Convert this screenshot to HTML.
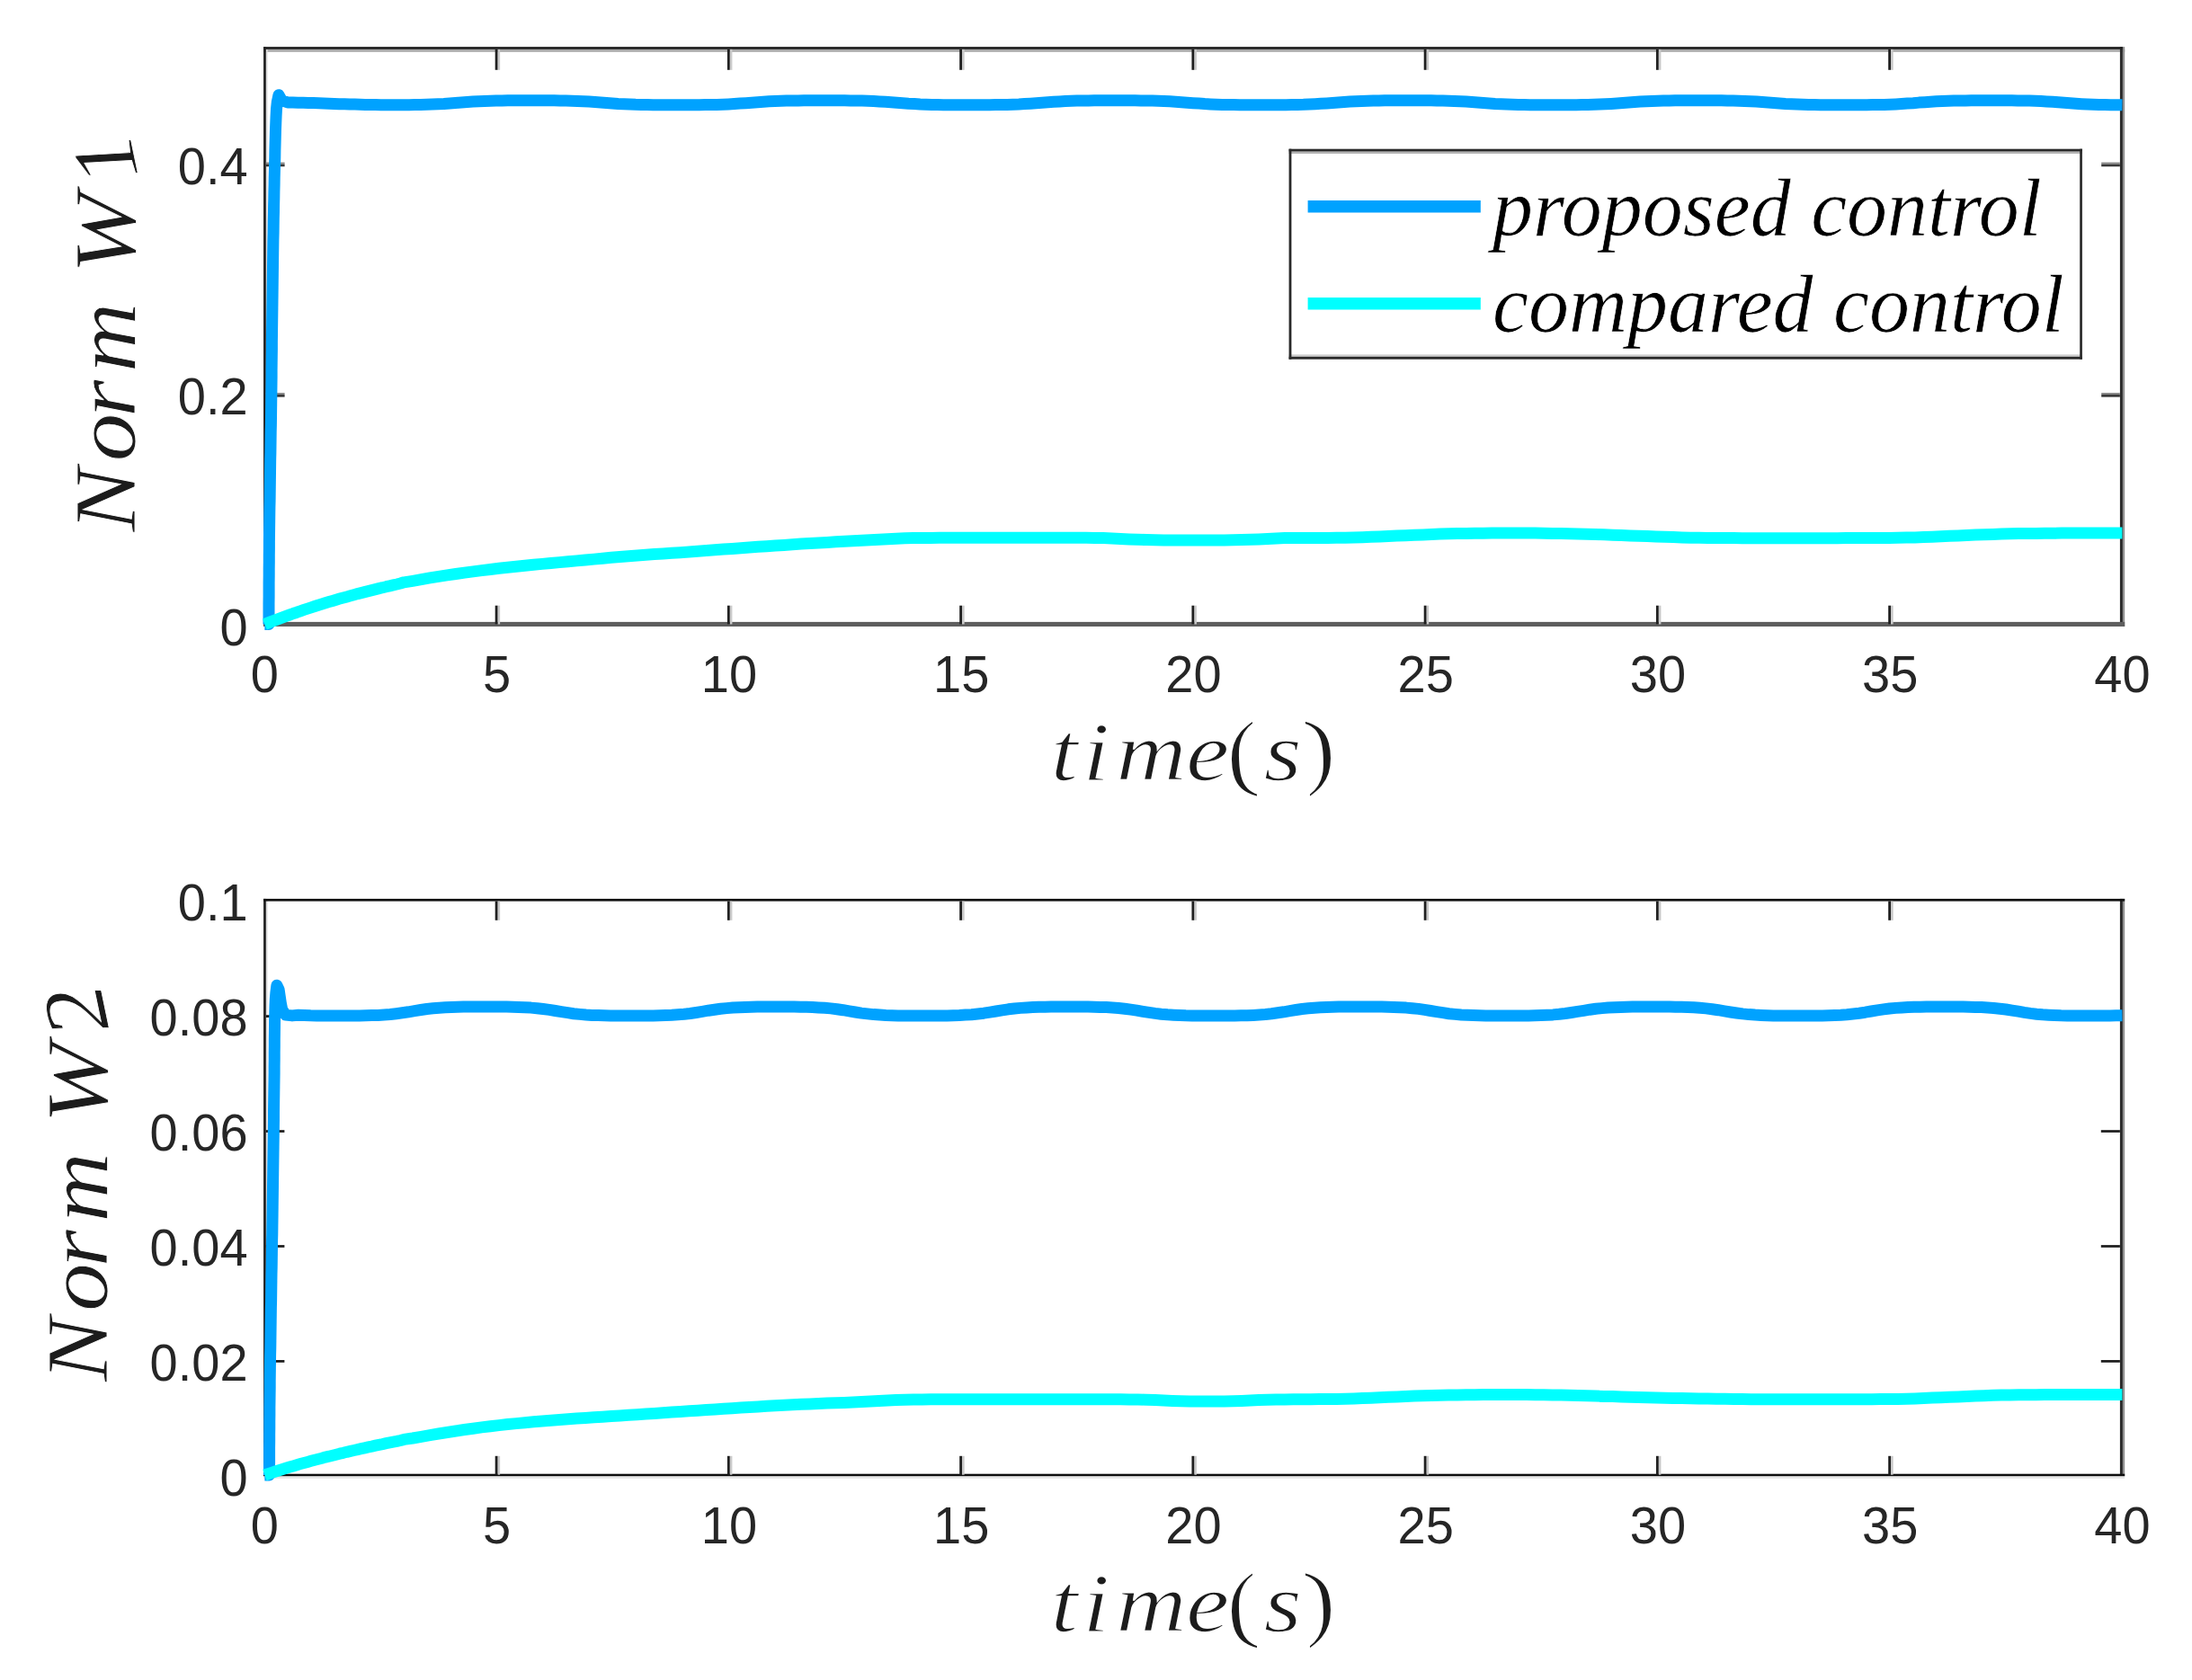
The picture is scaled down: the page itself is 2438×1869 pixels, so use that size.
<!DOCTYPE html>
<html lang="en"><head><meta charset="utf-8"><title>Norm W1 / Norm W2</title>
<style>
html,body{margin:0;padding:0;background:#fff;}
body{width:2438px;height:1869px;overflow:hidden;}
svg{display:block;}
.tk{font-family:"Liberation Sans",sans-serif;font-size:56px;fill:#262626;}
.lab{font-family:"Liberation Serif",serif;font-style:italic;fill:#1c1c1c;stroke:#fff;stroke-width:1.6px;}
.up{font-style:normal;}
.leg{font-family:"Liberation Serif",serif;font-style:italic;font-size:90px;fill:#000;stroke:#fff;stroke-width:0.7px;}
</style></head><body>
<svg width="2438" height="1869" viewBox="0 0 2438 1869">
<defs><filter id="soft" x="0" y="0" width="100%" height="100%" filterUnits="objectBoundingBox" color-interpolation-filters="sRGB"><feGaussianBlur stdDeviation="0.55"/></filter></defs>
<g filter="url(#soft)">
<rect x="0" y="0" width="2438" height="1869" fill="#fff"/>
<g id="axes-top" shape-rendering="auto">
<rect x="293.10" y="54.90" width="2070.10" height="2.90" fill="#ababab"/>
<rect x="295.80" y="52.10" width="1.80" height="644.90" fill="#dcdcdc"/>
<rect x="293.10" y="52.10" width="2.70" height="644.90" fill="#1e1e1e"/>
<rect x="2360.90" y="52.10" width="2.30" height="644.90" fill="#929292"/>
<rect x="2357.90" y="52.10" width="3.00" height="644.90" fill="#2a2a2a"/>
<rect x="293.10" y="52.10" width="2067.80" height="2.80" fill="#222222"/>
<rect x="293.10" y="691.90" width="2070.10" height="5.10" fill="#5e5e5e"/>
<rect x="553.50" y="54.90" width="2.65" height="22.90" fill="#cacaca"/>
<rect x="550.70" y="54.90" width="2.80" height="22.90" fill="#202020"/>
<rect x="553.50" y="673.70" width="2.65" height="20.70" fill="#cacaca"/>
<rect x="550.70" y="673.70" width="2.80" height="20.70" fill="#202020"/>
<rect x="811.75" y="54.90" width="2.65" height="22.90" fill="#cacaca"/>
<rect x="808.95" y="54.90" width="2.80" height="22.90" fill="#202020"/>
<rect x="811.75" y="673.70" width="2.65" height="20.70" fill="#cacaca"/>
<rect x="808.95" y="673.70" width="2.80" height="20.70" fill="#202020"/>
<rect x="1070.00" y="54.90" width="2.65" height="22.90" fill="#cacaca"/>
<rect x="1067.20" y="54.90" width="2.80" height="22.90" fill="#202020"/>
<rect x="1070.00" y="673.70" width="2.65" height="20.70" fill="#cacaca"/>
<rect x="1067.20" y="673.70" width="2.80" height="20.70" fill="#202020"/>
<rect x="1328.25" y="54.90" width="2.65" height="22.90" fill="#cacaca"/>
<rect x="1325.45" y="54.90" width="2.80" height="22.90" fill="#202020"/>
<rect x="1328.25" y="673.70" width="2.65" height="20.70" fill="#cacaca"/>
<rect x="1325.45" y="673.70" width="2.80" height="20.70" fill="#202020"/>
<rect x="1586.50" y="54.90" width="2.65" height="22.90" fill="#cacaca"/>
<rect x="1583.70" y="54.90" width="2.80" height="22.90" fill="#202020"/>
<rect x="1586.50" y="673.70" width="2.65" height="20.70" fill="#cacaca"/>
<rect x="1583.70" y="673.70" width="2.80" height="20.70" fill="#202020"/>
<rect x="1844.75" y="54.90" width="2.65" height="22.90" fill="#cacaca"/>
<rect x="1841.95" y="54.90" width="2.80" height="22.90" fill="#202020"/>
<rect x="1844.75" y="673.70" width="2.65" height="20.70" fill="#cacaca"/>
<rect x="1841.95" y="673.70" width="2.80" height="20.70" fill="#202020"/>
<rect x="2103.00" y="54.90" width="2.65" height="22.90" fill="#cacaca"/>
<rect x="2100.20" y="54.90" width="2.80" height="22.90" fill="#202020"/>
<rect x="2103.00" y="673.70" width="2.65" height="20.70" fill="#cacaca"/>
<rect x="2100.20" y="673.70" width="2.80" height="20.70" fill="#202020"/>
<rect x="295.80" y="436.97" width="20.80" height="2.00" fill="#8a8a8a"/>
<rect x="295.80" y="438.97" width="20.80" height="2.70" fill="#383838"/>
<rect x="2337.20" y="436.97" width="20.70" height="2.00" fill="#8a8a8a"/>
<rect x="2337.20" y="438.97" width="20.70" height="2.70" fill="#383838"/>
<rect x="295.80" y="180.59" width="20.80" height="2.00" fill="#8a8a8a"/>
<rect x="295.80" y="182.59" width="20.80" height="2.70" fill="#383838"/>
<rect x="2337.20" y="180.59" width="20.70" height="2.00" fill="#8a8a8a"/>
<rect x="2337.20" y="182.59" width="20.70" height="2.70" fill="#383838"/>
</g>
<g fill="none" stroke-linejoin="round" stroke-linecap="butt">
<path d="M294.4 694.5L299.0 694.5L299.0 686.8L299.0 679.2L299.0 671.5L299.1 663.9L299.1 656.2L299.1 648.6L299.2 640.9L299.2 633.3L299.3 625.7L299.3 618.0L299.4 610.4L299.4 602.7L299.5 595.1L299.6 587.4L299.7 579.8L299.8 572.2L299.9 564.5L300.1 556.9L300.2 549.2L300.3 541.6L300.4 533.9L300.5 526.3L300.6 518.7L300.7 511.0L300.9 503.4L301.0 495.7L301.1 488.1L301.2 480.5L301.4 472.8L301.5 465.2L301.6 457.5L301.7 449.9L301.8 442.2L301.9 434.6L302.0 427.0L302.1 419.3L302.1 411.7L302.2 404.0L302.3 396.4L302.4 388.7L302.4 381.1L302.5 373.5L302.6 365.8L302.7 358.2L302.8 350.5L302.9 342.9L303.0 335.2L303.1 327.6L303.2 320.0L303.3 312.3L303.4 304.7L303.5 297.0L303.6 289.4L303.7 281.7L303.8 274.1L303.9 266.5L304.1 258.8L304.2 251.2L304.3 243.5L304.5 235.9L304.6 228.2L304.8 220.6L304.9 213.0L305.1 205.3L305.2 197.7L305.4 190.0L305.6 182.4L305.8 174.8L305.9 167.1L306.1 159.5L306.3 151.8L306.5 144.2L306.8 136.5L307.1 128.9L307.5 121.3L308.3 113.6L310.0 105.7L313.2 111.4L320.0 114.0L325.7 114.1L331.5 114.2L337.2 114.3L343.0 114.5L348.7 114.6L354.5 114.8L360.2 115.0L365.9 115.2L371.7 115.5L377.4 115.7L383.2 115.8L388.9 116.0L394.7 116.1L400.4 116.3L406.1 116.4L411.9 116.5L417.6 116.6L423.4 116.7L429.1 116.8L435.6 116.8L442.0 116.8L448.5 116.7L455.0 116.7L461.4 116.6L467.9 116.5L474.3 116.3L480.8 116.1L487.3 115.8L493.7 115.5L500.2 115.0L506.6 114.5L513.1 114.0L519.6 113.6L526.0 113.1L532.5 112.7L538.9 112.5L545.4 112.2L551.8 112.1L558.3 111.9L564.8 111.8L571.2 111.8L577.7 111.7L584.1 111.7L590.6 111.7L597.1 111.7L603.5 111.7L610.0 111.8L616.4 111.8L622.9 111.9L629.4 112.0L635.8 112.2L642.3 112.4L648.7 112.7L655.2 113.0L661.7 113.4L668.1 113.9L674.6 114.4L681.0 114.9L687.5 115.4L693.9 115.7L700.4 116.0L706.9 116.3L713.3 116.4L719.8 116.6L726.2 116.7L732.7 116.7L739.2 116.8L745.6 116.8L752.1 116.8L758.5 116.8L765.0 116.8L771.5 116.8L777.9 116.7L784.4 116.6L790.8 116.5L797.3 116.4L803.8 116.2L810.2 115.9L816.7 115.5L823.1 115.1L829.6 114.7L836.0 114.2L842.5 113.7L849.0 113.2L855.4 112.8L861.9 112.5L868.3 112.3L874.8 112.1L881.3 112.0L887.7 111.9L894.2 111.8L900.6 111.8L907.1 111.7L913.6 111.7L920.0 111.7L926.5 111.7L932.9 111.8L939.4 111.8L945.9 111.9L952.3 112.0L958.8 112.1L965.2 112.3L971.7 112.6L978.1 112.9L984.6 113.3L991.1 113.8L997.5 114.3L1004.0 114.8L1010.4 115.3L1016.9 115.6L1023.4 116.0L1029.8 116.2L1036.3 116.4L1042.7 116.6L1049.2 116.7L1055.7 116.7L1062.1 116.8L1068.6 116.8L1075.0 116.8L1081.5 116.8L1088.0 116.8L1094.4 116.8L1100.9 116.7L1107.3 116.6L1113.8 116.5L1120.2 116.4L1126.7 116.2L1133.2 116.0L1139.6 115.6L1146.1 115.2L1152.5 114.8L1159.0 114.3L1165.5 113.8L1171.9 113.3L1178.4 112.9L1184.8 112.6L1191.3 112.3L1197.8 112.1L1204.2 112.0L1210.7 111.9L1217.1 111.8L1223.6 111.8L1230.1 111.7L1236.5 111.7L1243.0 111.7L1249.4 111.7L1255.9 111.8L1262.4 111.8L1268.8 111.9L1275.3 112.0L1281.7 112.1L1288.2 112.3L1294.6 112.5L1301.1 112.8L1307.6 113.2L1314.0 113.7L1320.5 114.2L1326.9 114.7L1333.4 115.1L1339.9 115.6L1346.3 115.9L1352.8 116.2L1359.2 116.4L1365.7 116.5L1372.2 116.6L1378.6 116.7L1385.1 116.8L1391.5 116.8L1398.0 116.8L1404.5 116.8L1410.9 116.8L1417.4 116.8L1423.8 116.7L1430.3 116.7L1436.7 116.6L1443.2 116.4L1449.7 116.3L1456.1 116.0L1462.6 115.7L1469.0 115.3L1475.5 114.9L1482.0 114.4L1488.4 113.9L1494.9 113.4L1501.3 113.0L1507.8 112.7L1514.3 112.4L1520.7 112.2L1527.2 112.0L1533.6 111.9L1540.1 111.8L1546.6 111.8L1553.0 111.7L1559.5 111.7L1565.9 111.7L1572.4 111.7L1578.8 111.7L1585.3 111.8L1591.8 111.8L1598.2 111.9L1604.7 112.1L1611.1 112.2L1617.6 112.5L1624.1 112.8L1630.5 113.1L1637.0 113.6L1643.4 114.1L1649.9 114.6L1656.4 115.0L1662.8 115.5L1669.3 115.8L1675.7 116.1L1682.2 116.3L1688.7 116.5L1695.1 116.6L1701.6 116.7L1708.0 116.7L1714.5 116.8L1720.9 116.8L1727.4 116.8L1733.9 116.8L1740.3 116.8L1746.8 116.7L1753.2 116.7L1759.7 116.6L1766.2 116.5L1772.6 116.3L1779.1 116.1L1785.5 115.8L1792.0 115.4L1798.5 115.0L1804.9 114.5L1811.4 114.0L1817.8 113.5L1824.3 113.1L1830.8 112.7L1837.2 112.4L1843.7 112.2L1850.1 112.1L1856.6 111.9L1863.0 111.8L1869.5 111.8L1876.0 111.7L1882.4 111.7L1888.9 111.7L1895.3 111.7L1901.8 111.7L1908.3 111.8L1914.7 111.8L1921.2 111.9L1927.6 112.0L1934.1 112.2L1940.6 112.4L1947.0 112.7L1953.5 113.0L1959.9 113.5L1966.4 113.9L1972.9 114.4L1979.3 114.9L1985.8 115.4L1992.2 115.7L1998.7 116.0L2005.1 116.3L2011.6 116.5L2018.1 116.6L2024.5 116.7L2031.0 116.7L2037.4 116.8L2043.9 116.8L2050.4 116.8L2056.8 116.8L2063.3 116.8L2069.7 116.8L2076.2 116.7L2082.7 116.6L2089.1 116.5L2095.6 116.4L2102.0 116.2L2108.5 115.9L2115.0 115.5L2121.4 115.1L2127.9 114.7L2134.3 114.1L2140.8 113.7L2147.2 113.2L2153.7 112.8L2160.2 112.5L2166.6 112.3L2173.1 112.1L2179.5 112.0L2186.0 111.9L2192.5 111.8L2198.9 111.8L2205.4 111.7L2211.8 111.7L2218.3 111.7L2224.8 111.7L2231.2 111.8L2237.7 111.8L2244.1 111.9L2250.6 112.0L2257.1 112.1L2263.5 112.3L2270.0 112.6L2276.4 112.9L2282.9 113.3L2289.3 113.8L2295.8 114.3L2302.3 114.8L2308.7 115.3L2315.2 115.7L2321.6 116.0L2328.1 116.2L2334.6 116.4L2341.0 116.6L2347.5 116.7L2353.9 116.7L2360.4 116.8" stroke="#00A2FF" stroke-width="13.0"/>
<path d="M294.4 694.5L298.4 692.9L302.3 691.3L306.3 689.8L310.3 688.3L314.3 686.8L318.2 685.4L322.2 684.0L326.2 682.5L330.2 681.2L334.1 679.8L338.1 678.4L342.1 677.1L346.0 675.8L350.0 674.5L354.0 673.2L358.0 672.0L361.9 670.8L365.9 669.6L369.9 668.4L373.9 667.2L377.8 666.1L381.8 665.0L385.8 663.9L389.8 662.8L393.7 661.7L397.7 660.6L401.7 659.6L405.6 658.6L409.6 657.6L413.6 656.6L417.6 655.6L421.5 654.6L425.5 653.7L429.5 652.7L433.5 651.8L437.4 650.9L441.4 650.0L445.4 649.0L449.3 647.8L459.0 646.3L468.6 644.6L478.2 642.9L487.8 641.4L497.4 639.9L507.0 638.5L516.6 637.1L526.2 635.9L535.8 634.6L545.4 633.5L555.0 632.3L564.6 631.3L574.2 630.3L583.8 629.3L593.4 628.3L603.0 627.4L612.6 626.5L622.2 625.6L631.8 624.8L641.4 623.9L651.0 623.0L660.6 622.1L670.2 621.2L679.8 620.3L689.4 619.5L699.0 618.7L708.6 618.0L718.2 617.3L727.8 616.6L737.4 616.0L747.1 615.3L756.7 614.7L766.3 614.0L775.9 613.2L785.5 612.5L795.1 611.8L804.7 611.1L814.3 610.4L823.9 609.7L833.5 609.0L843.1 608.3L852.7 607.7L862.3 607.0L871.9 606.4L881.5 605.8L891.1 605.1L900.7 604.6L910.3 604.0L919.9 603.4L929.5 602.8L939.1 602.3L948.7 601.8L958.3 601.2L967.9 600.7L977.5 600.2L987.1 599.7L996.7 599.2L1006.3 598.8L1015.9 598.6L1025.5 598.4L1035.1 598.4L1044.8 598.3L1054.4 598.3L1064.0 598.2L1073.6 598.2L1083.2 598.2L1092.8 598.2L1102.4 598.2L1112.0 598.2L1121.6 598.2L1131.2 598.2L1140.8 598.2L1150.4 598.2L1160.0 598.2L1169.6 598.2L1179.2 598.2L1188.8 598.3L1198.4 598.3L1208.0 598.3L1217.6 598.4L1227.2 598.6L1236.8 599.0L1246.4 599.5L1256.0 599.9L1265.6 600.3L1275.2 600.6L1284.8 600.7L1294.4 600.9L1304.0 601.0L1313.6 601.1L1323.2 601.1L1332.9 601.1L1342.5 601.1L1352.1 601.0L1361.7 600.9L1371.3 600.7L1380.9 600.5L1390.5 600.3L1400.1 599.9L1409.7 599.4L1419.3 598.9L1428.9 598.6L1438.5 598.5L1448.1 598.5L1457.7 598.4L1467.3 598.4L1476.9 598.4L1486.5 598.3L1496.1 598.2L1505.7 598.0L1515.3 597.7L1524.9 597.3L1534.5 596.9L1544.1 596.5L1553.7 596.1L1563.3 595.7L1572.9 595.3L1582.5 594.9L1592.1 594.5L1601.7 594.1L1611.3 593.8L1620.9 593.6L1630.6 593.4L1640.2 593.3L1649.8 593.2L1659.4 593.1L1669.0 593.0L1678.6 593.0L1688.2 593.0L1697.8 593.0L1707.4 593.1L1717.0 593.2L1726.6 593.4L1736.2 593.5L1745.8 593.7L1755.4 593.9L1765.0 594.2L1774.6 594.5L1784.2 594.8L1793.8 595.2L1803.4 595.5L1813.0 595.9L1822.6 596.2L1832.2 596.6L1841.8 596.9L1851.4 597.3L1861.0 597.6L1870.6 597.9L1880.2 598.2L1889.8 598.3L1899.4 598.4L1909.0 598.5L1918.6 598.6L1928.3 598.6L1937.9 598.7L1947.5 598.7L1957.1 598.7L1966.7 598.7L1976.3 598.7L1985.9 598.7L1995.5 598.7L2005.1 598.7L2014.7 598.7L2024.3 598.7L2033.9 598.7L2043.5 598.7L2053.1 598.6L2062.7 598.6L2072.3 598.6L2081.9 598.5L2091.5 598.5L2101.1 598.4L2110.7 598.3L2120.3 598.1L2129.9 597.9L2139.5 597.6L2149.1 597.2L2158.7 596.8L2168.3 596.3L2177.9 595.9L2187.5 595.5L2197.1 595.1L2206.7 594.7L2216.4 594.4L2226.0 594.1L2235.6 593.8L2245.2 593.6L2254.8 593.5L2264.4 593.4L2274.0 593.3L2283.6 593.2L2293.2 593.1L2302.8 593.1L2312.4 593.0L2322.0 593.0L2331.6 593.0L2341.2 593.0L2350.8 593.0L2360.4 593.0" stroke="#00FFFF" stroke-width="13.0"/>
</g>
<g class="tk" id="ticks-top">
<text transform="translate(294.4 770.1) scale(1 1.04)" text-anchor="middle">0</text>
<text transform="translate(552.6 770.1) scale(1 1.04)" text-anchor="middle">5</text>
<text transform="translate(810.9 770.1) scale(1 1.04)" text-anchor="middle">10</text>
<text transform="translate(1069.2 770.1) scale(1 1.04)" text-anchor="middle">15</text>
<text transform="translate(1327.4 770.1) scale(1 1.04)" text-anchor="middle">20</text>
<text transform="translate(1585.7 770.1) scale(1 1.04)" text-anchor="middle">25</text>
<text transform="translate(1843.9 770.1) scale(1 1.04)" text-anchor="middle">30</text>
<text transform="translate(2102.2 770.1) scale(1 1.04)" text-anchor="middle">35</text>
<text transform="translate(2360.4 770.1) scale(1 1.04)" text-anchor="middle">40</text>
<text transform="translate(275.6 717.7) scale(1 1.04)" text-anchor="end">0</text>
<text transform="translate(275.6 461.3) scale(1 1.04)" text-anchor="end">0.2</text>
<text transform="translate(275.6 204.9) scale(1 1.04)" text-anchor="end">0.4</text>
</g>
<g id="axes-bot" shape-rendering="auto">
<rect x="295.80" y="999.90" width="1.80" height="642.30" fill="#dcdcdc"/>
<rect x="293.10" y="999.90" width="2.70" height="642.30" fill="#1e1e1e"/>
<rect x="2360.90" y="999.90" width="2.30" height="642.30" fill="#929292"/>
<rect x="2357.90" y="999.90" width="3.00" height="642.30" fill="#2a2a2a"/>
<rect x="293.10" y="999.90" width="2070.10" height="2.70" fill="#101010"/>
<rect x="293.10" y="1642.20" width="2070.10" height="2.70" fill="#e8e8e8"/>
<rect x="293.10" y="1639.70" width="2070.10" height="2.50" fill="#0e0e0e"/>
<rect x="553.50" y="1002.60" width="2.65" height="21.20" fill="#cacaca"/>
<rect x="550.70" y="1002.60" width="2.80" height="21.20" fill="#202020"/>
<rect x="553.50" y="1619.80" width="2.65" height="20.90" fill="#cacaca"/>
<rect x="550.70" y="1619.80" width="2.80" height="20.90" fill="#202020"/>
<rect x="811.75" y="1002.60" width="2.65" height="21.20" fill="#cacaca"/>
<rect x="808.95" y="1002.60" width="2.80" height="21.20" fill="#202020"/>
<rect x="811.75" y="1619.80" width="2.65" height="20.90" fill="#cacaca"/>
<rect x="808.95" y="1619.80" width="2.80" height="20.90" fill="#202020"/>
<rect x="1070.00" y="1002.60" width="2.65" height="21.20" fill="#cacaca"/>
<rect x="1067.20" y="1002.60" width="2.80" height="21.20" fill="#202020"/>
<rect x="1070.00" y="1619.80" width="2.65" height="20.90" fill="#cacaca"/>
<rect x="1067.20" y="1619.80" width="2.80" height="20.90" fill="#202020"/>
<rect x="1328.25" y="1002.60" width="2.65" height="21.20" fill="#cacaca"/>
<rect x="1325.45" y="1002.60" width="2.80" height="21.20" fill="#202020"/>
<rect x="1328.25" y="1619.80" width="2.65" height="20.90" fill="#cacaca"/>
<rect x="1325.45" y="1619.80" width="2.80" height="20.90" fill="#202020"/>
<rect x="1586.50" y="1002.60" width="2.65" height="21.20" fill="#cacaca"/>
<rect x="1583.70" y="1002.60" width="2.80" height="21.20" fill="#202020"/>
<rect x="1586.50" y="1619.80" width="2.65" height="20.90" fill="#cacaca"/>
<rect x="1583.70" y="1619.80" width="2.80" height="20.90" fill="#202020"/>
<rect x="1844.75" y="1002.60" width="2.65" height="21.20" fill="#cacaca"/>
<rect x="1841.95" y="1002.60" width="2.80" height="21.20" fill="#202020"/>
<rect x="1844.75" y="1619.80" width="2.65" height="20.90" fill="#cacaca"/>
<rect x="1841.95" y="1619.80" width="2.80" height="20.90" fill="#202020"/>
<rect x="2103.00" y="1002.60" width="2.65" height="21.20" fill="#cacaca"/>
<rect x="2100.20" y="1002.60" width="2.80" height="21.20" fill="#202020"/>
<rect x="2103.00" y="1619.80" width="2.65" height="20.90" fill="#cacaca"/>
<rect x="2100.20" y="1619.80" width="2.80" height="20.90" fill="#202020"/>
<rect x="295.80" y="1513.06" width="20.60" height="2.70" fill="#1c1c1c"/>
<rect x="2336.80" y="1513.06" width="21.10" height="2.70" fill="#1c1c1c"/>
<rect x="295.80" y="1385.12" width="20.60" height="2.70" fill="#1c1c1c"/>
<rect x="2336.80" y="1385.12" width="21.10" height="2.70" fill="#1c1c1c"/>
<rect x="295.80" y="1257.18" width="20.60" height="2.70" fill="#1c1c1c"/>
<rect x="2336.80" y="1257.18" width="21.10" height="2.70" fill="#1c1c1c"/>
<rect x="295.80" y="1129.24" width="20.60" height="2.70" fill="#1c1c1c"/>
<rect x="2336.80" y="1129.24" width="21.10" height="2.70" fill="#1c1c1c"/>
</g>
<g fill="none" stroke-linejoin="round" stroke-linecap="butt">
<path d="M294.4 1641.0L299.5 1641.0L299.5 1633.5L299.6 1626.0L299.6 1618.6L299.6 1611.1L299.7 1603.7L299.7 1596.2L299.8 1588.8L299.8 1581.3L299.9 1573.9L299.9 1566.4L300.0 1559.0L300.1 1551.5L300.2 1544.1L300.2 1536.6L300.3 1529.2L300.4 1521.7L300.5 1514.3L300.6 1506.8L300.8 1499.4L300.9 1491.9L301.0 1484.4L301.1 1477.0L301.2 1469.5L301.3 1462.1L301.4 1454.6L301.6 1447.2L301.7 1439.7L301.8 1432.3L301.9 1424.8L302.0 1417.4L302.2 1409.9L302.3 1402.5L302.4 1395.0L302.5 1387.6L302.6 1380.1L302.8 1372.7L302.9 1365.2L303.0 1357.8L303.1 1350.3L303.2 1342.9L303.3 1335.4L303.4 1328.0L303.5 1320.5L303.6 1313.1L303.7 1305.6L303.8 1298.1L303.9 1290.7L304.0 1283.2L304.1 1275.8L304.2 1268.3L304.3 1260.9L304.4 1253.4L304.5 1246.0L304.5 1238.5L304.6 1231.1L304.7 1223.6L304.8 1216.2L304.9 1208.7L305.0 1201.3L305.1 1193.8L305.1 1186.4L305.2 1178.9L305.2 1171.5L305.3 1164.0L305.3 1156.5L305.4 1149.1L305.5 1141.6L305.6 1134.2L305.8 1126.7L306.0 1119.3L306.3 1111.8L306.9 1104.4L307.9 1096.2L310.1 1100.8L311.2 1108.2L312.3 1115.6L313.7 1122.9L317.6 1129.1L325.0 1129.9L331.8 1129.2L338.6 1129.5L345.4 1129.8L352.2 1129.9L359.0 1130.0L365.8 1130.1L372.7 1130.1L379.5 1130.1L386.3 1130.1L393.1 1130.0L399.9 1129.9L406.7 1129.8L413.5 1129.6L420.3 1129.4L427.1 1129.0L433.9 1128.5L440.7 1127.7L447.5 1126.8L454.3 1125.8L461.1 1124.6L468.0 1123.5L474.8 1122.5L481.6 1121.8L488.4 1121.2L495.2 1120.8L502.0 1120.5L508.8 1120.3L515.6 1120.1L522.4 1120.1L529.2 1120.0L536.0 1120.0L542.8 1120.0L549.6 1120.0L556.5 1120.1L563.3 1120.1L570.1 1120.3L576.9 1120.5L583.7 1120.7L590.5 1121.1L597.3 1121.7L604.1 1122.5L610.9 1123.4L617.7 1124.5L624.5 1125.6L631.3 1126.7L638.1 1127.7L644.9 1128.4L651.8 1129.0L658.6 1129.4L665.4 1129.6L672.2 1129.8L679.0 1129.9L685.8 1130.0L692.6 1130.1L699.4 1130.1L706.2 1130.1L713.0 1130.1L719.8 1130.0L726.6 1129.9L733.4 1129.8L740.2 1129.6L747.1 1129.3L753.9 1128.8L760.7 1128.3L767.5 1127.5L774.3 1126.5L781.1 1125.4L787.9 1124.2L794.7 1123.2L801.5 1122.3L808.3 1121.6L815.1 1121.0L821.9 1120.7L828.7 1120.4L835.6 1120.2L842.4 1120.1L849.2 1120.0L856.0 1120.0L862.8 1120.0L869.6 1120.0L876.4 1120.0L883.2 1120.1L890.0 1120.2L896.8 1120.3L903.6 1120.5L910.4 1120.9L917.2 1121.3L924.0 1121.9L930.9 1122.7L937.7 1123.7L944.5 1124.9L951.3 1126.0L958.1 1127.1L964.9 1127.9L971.7 1128.6L978.5 1129.1L985.3 1129.5L992.1 1129.7L998.9 1129.9L1005.7 1130.0L1012.5 1130.0L1019.4 1130.1L1026.2 1130.1L1033.0 1130.1L1039.8 1130.0L1046.6 1130.0L1053.4 1129.9L1060.2 1129.7L1067.0 1129.5L1073.8 1129.1L1080.6 1128.7L1087.4 1128.0L1094.2 1127.2L1101.0 1126.1L1107.8 1125.0L1114.7 1123.9L1121.5 1122.8L1128.3 1122.0L1135.1 1121.4L1141.9 1120.9L1148.7 1120.6L1155.5 1120.3L1162.3 1120.2L1169.1 1120.1L1175.9 1120.0L1182.7 1120.0L1189.5 1120.0L1196.3 1120.0L1203.1 1120.0L1210.0 1120.1L1216.8 1120.2L1223.6 1120.4L1230.4 1120.6L1237.2 1121.0L1244.0 1121.5L1250.8 1122.2L1257.6 1123.1L1264.4 1124.1L1271.2 1125.3L1278.0 1126.4L1284.8 1127.4L1291.6 1128.2L1298.5 1128.8L1305.3 1129.2L1312.1 1129.5L1318.9 1129.8L1325.7 1129.9L1332.5 1130.0L1339.3 1130.1L1346.1 1130.1L1352.9 1130.1L1359.7 1130.1L1366.5 1130.0L1373.3 1129.9L1380.1 1129.8L1386.9 1129.7L1393.8 1129.4L1400.6 1129.0L1407.4 1128.5L1414.2 1127.8L1421.0 1126.8L1427.8 1125.8L1434.6 1124.6L1441.4 1123.5L1448.2 1122.5L1455.0 1121.8L1461.8 1121.2L1468.6 1120.8L1475.4 1120.5L1482.3 1120.3L1489.1 1120.1L1495.9 1120.1L1502.7 1120.0L1509.5 1120.0L1516.3 1120.0L1523.1 1120.0L1529.9 1120.1L1536.7 1120.1L1543.5 1120.3L1550.3 1120.4L1557.1 1120.7L1563.9 1121.1L1570.7 1121.7L1577.6 1122.4L1584.4 1123.4L1591.2 1124.5L1598.0 1125.6L1604.8 1126.7L1611.6 1127.7L1618.4 1128.4L1625.2 1129.0L1632.0 1129.3L1638.8 1129.6L1645.6 1129.8L1652.4 1129.9L1659.2 1130.0L1666.0 1130.1L1672.9 1130.1L1679.7 1130.1L1686.5 1130.1L1693.3 1130.0L1700.1 1129.9L1706.9 1129.8L1713.7 1129.6L1720.5 1129.3L1727.3 1128.9L1734.1 1128.3L1740.9 1127.5L1747.7 1126.5L1754.5 1125.4L1761.4 1124.3L1768.2 1123.2L1775.0 1122.3L1781.8 1121.6L1788.6 1121.0L1795.4 1120.7L1802.2 1120.4L1809.0 1120.2L1815.8 1120.1L1822.6 1120.0L1829.4 1120.0L1836.2 1120.0L1843.0 1120.0L1849.8 1120.0L1856.7 1120.1L1863.5 1120.2L1870.3 1120.3L1877.1 1120.5L1883.9 1120.8L1890.7 1121.3L1897.5 1121.9L1904.3 1122.7L1911.1 1123.7L1917.9 1124.9L1924.7 1126.0L1931.5 1127.0L1938.3 1127.9L1945.2 1128.6L1952.0 1129.1L1958.8 1129.4L1965.6 1129.7L1972.4 1129.9L1979.2 1130.0L1986.0 1130.0L1992.8 1130.1L1999.6 1130.1L2006.4 1130.1L2013.2 1130.0L2020.0 1130.0L2026.8 1129.9L2033.6 1129.7L2040.5 1129.5L2047.3 1129.2L2054.1 1128.7L2060.9 1128.0L2067.7 1127.2L2074.5 1126.2L2081.3 1125.0L2088.1 1123.9L2094.9 1122.9L2101.7 1122.0L2108.5 1121.4L2115.3 1120.9L2122.1 1120.6L2128.9 1120.3L2135.8 1120.2L2142.6 1120.1L2149.4 1120.0L2156.2 1120.0L2163.0 1120.0L2169.8 1120.0L2176.6 1120.0L2183.4 1120.1L2190.2 1120.2L2197.0 1120.4L2203.8 1120.6L2210.6 1121.0L2217.4 1121.5L2224.3 1122.2L2231.1 1123.0L2237.9 1124.1L2244.7 1125.2L2251.5 1126.4L2258.3 1127.4L2265.1 1128.2L2271.9 1128.8L2278.7 1129.2L2285.5 1129.5L2292.3 1129.8L2299.1 1129.9L2305.9 1130.0L2312.7 1130.0L2319.6 1130.1L2326.4 1130.1L2333.2 1130.1L2340.0 1130.0L2346.8 1129.9L2353.6 1129.8L2360.4 1129.7" stroke="#00A2FF" stroke-width="13.0"/>
<path d="M294.4 1641.0L298.4 1639.6L302.3 1638.3L306.3 1637.0L310.3 1635.7L314.3 1634.5L318.2 1633.3L322.2 1632.1L326.2 1630.9L330.2 1629.7L334.1 1628.6L338.1 1627.5L342.1 1626.4L346.0 1625.3L350.0 1624.2L354.0 1623.2L358.0 1622.2L361.9 1621.1L365.9 1620.2L369.9 1619.2L373.9 1618.2L377.8 1617.2L381.8 1616.3L385.8 1615.3L389.8 1614.4L393.7 1613.5L397.7 1612.6L401.7 1611.7L405.6 1610.8L409.6 1609.9L413.6 1609.1L417.6 1608.2L421.5 1607.4L425.5 1606.6L429.5 1605.7L433.5 1604.9L437.4 1604.2L441.4 1603.4L445.4 1602.5L449.3 1601.4L459.0 1600.0L468.6 1598.3L478.2 1596.6L487.8 1595.0L497.4 1593.5L507.0 1592.0L516.6 1590.5L526.2 1589.2L535.8 1587.9L545.4 1586.7L555.0 1585.6L564.6 1584.5L574.2 1583.6L583.8 1582.7L593.4 1581.8L603.0 1581.0L612.6 1580.2L622.2 1579.5L631.8 1578.8L641.4 1578.1L651.0 1577.5L660.6 1576.8L670.2 1576.2L679.8 1575.6L689.4 1574.9L699.0 1574.3L708.6 1573.7L718.2 1573.0L727.8 1572.4L737.4 1571.7L747.1 1571.1L756.7 1570.4L766.3 1569.8L775.9 1569.2L785.5 1568.5L795.1 1567.9L804.7 1567.3L814.3 1566.7L823.9 1566.1L833.5 1565.5L843.1 1564.9L852.7 1564.3L862.3 1563.8L871.9 1563.2L881.5 1562.7L891.1 1562.3L900.7 1561.9L910.3 1561.5L919.9 1561.1L929.5 1560.8L939.1 1560.4L948.7 1560.1L958.3 1559.6L967.9 1559.1L977.5 1558.5L987.1 1558.0L996.7 1557.5L1006.3 1557.2L1015.9 1557.0L1025.5 1556.9L1035.1 1556.8L1044.8 1556.8L1054.4 1556.7L1064.0 1556.7L1073.6 1556.7L1083.2 1556.7L1092.8 1556.7L1102.4 1556.7L1112.0 1556.7L1121.6 1556.7L1131.2 1556.7L1140.8 1556.7L1150.4 1556.7L1160.0 1556.7L1169.6 1556.7L1179.2 1556.7L1188.8 1556.7L1198.4 1556.7L1208.0 1556.7L1217.6 1556.7L1227.2 1556.7L1236.8 1556.8L1246.4 1556.8L1256.0 1556.9L1265.6 1557.0L1275.2 1557.2L1284.8 1557.5L1294.4 1558.0L1304.0 1558.4L1313.6 1558.7L1323.2 1558.9L1332.9 1559.0L1342.5 1559.1L1352.1 1559.1L1361.7 1559.0L1371.3 1558.8L1380.9 1558.5L1390.5 1558.1L1400.1 1557.6L1409.7 1557.2L1419.3 1557.0L1428.9 1556.9L1438.5 1556.8L1448.1 1556.7L1457.7 1556.7L1467.3 1556.6L1476.9 1556.6L1486.5 1556.4L1496.1 1556.3L1505.7 1556.0L1515.3 1555.6L1524.9 1555.2L1534.5 1554.7L1544.1 1554.3L1553.7 1553.9L1563.3 1553.5L1572.9 1553.1L1582.5 1552.8L1592.1 1552.5L1601.7 1552.2L1611.3 1552.0L1620.9 1551.9L1630.6 1551.8L1640.2 1551.7L1649.8 1551.6L1659.4 1551.5L1669.0 1551.5L1678.6 1551.5L1688.2 1551.5L1697.8 1551.6L1707.4 1551.7L1717.0 1551.8L1726.6 1551.9L1736.2 1552.1L1745.8 1552.3L1755.4 1552.5L1765.0 1552.8L1774.6 1553.1L1784.2 1553.4L1793.8 1553.6L1803.4 1553.9L1813.0 1554.2L1822.6 1554.4L1832.2 1554.7L1841.8 1554.9L1851.4 1555.2L1861.0 1555.4L1870.6 1555.6L1880.2 1555.8L1889.8 1555.9L1899.4 1556.1L1909.0 1556.2L1918.6 1556.3L1928.3 1556.5L1937.9 1556.6L1947.5 1556.7L1957.1 1556.7L1966.7 1556.7L1976.3 1556.7L1985.9 1556.7L1995.5 1556.7L2005.1 1556.7L2014.7 1556.7L2024.3 1556.7L2033.9 1556.7L2043.5 1556.7L2053.1 1556.7L2062.7 1556.7L2072.3 1556.7L2081.9 1556.7L2091.5 1556.6L2101.1 1556.6L2110.7 1556.4L2120.3 1556.2L2129.9 1555.9L2139.5 1555.5L2149.1 1555.1L2158.7 1554.7L2168.3 1554.3L2177.9 1553.9L2187.5 1553.5L2197.1 1553.1L2206.7 1552.7L2216.4 1552.3L2226.0 1552.1L2235.6 1552.0L2245.2 1551.8L2254.8 1551.8L2264.4 1551.7L2274.0 1551.6L2283.6 1551.6L2293.2 1551.6L2302.8 1551.5L2312.4 1551.5L2322.0 1551.5L2331.6 1551.5L2341.2 1551.5L2350.8 1551.5L2360.4 1551.5" stroke="#00FFFF" stroke-width="13.0"/>
</g>
<g class="tk" id="ticks-bot">
<text transform="translate(294.4 1716.5) scale(1 1.04)" text-anchor="middle">0</text>
<text transform="translate(552.6 1716.5) scale(1 1.04)" text-anchor="middle">5</text>
<text transform="translate(810.9 1716.5) scale(1 1.04)" text-anchor="middle">10</text>
<text transform="translate(1069.2 1716.5) scale(1 1.04)" text-anchor="middle">15</text>
<text transform="translate(1327.4 1716.5) scale(1 1.04)" text-anchor="middle">20</text>
<text transform="translate(1585.7 1716.5) scale(1 1.04)" text-anchor="middle">25</text>
<text transform="translate(1843.9 1716.5) scale(1 1.04)" text-anchor="middle">30</text>
<text transform="translate(2102.2 1716.5) scale(1 1.04)" text-anchor="middle">35</text>
<text transform="translate(2360.4 1716.5) scale(1 1.04)" text-anchor="middle">40</text>
<text transform="translate(275.6 1663.5) scale(1 1.04)" text-anchor="end">0</text>
<text transform="translate(275.6 1535.6) scale(1 1.04)" text-anchor="end">0.02</text>
<text transform="translate(275.6 1407.7) scale(1 1.04)" text-anchor="end">0.04</text>
<text transform="translate(275.6 1279.7) scale(1 1.04)" text-anchor="end">0.06</text>
<text transform="translate(275.6 1151.8) scale(1 1.04)" text-anchor="end">0.08</text>
<text transform="translate(275.6 1023.9) scale(1 1.04)" text-anchor="end">0.1</text>
</g>
<g id="legend">
<rect x="1433.60" y="165.70" width="882.30" height="234.00" fill="#ffffff"/>
<rect x="1433.60" y="168.50" width="882.30" height="2.50" fill="#b4b4b4"/>
<rect x="1433.60" y="394.40" width="882.30" height="2.40" fill="#cccccc"/>
<rect x="1433.60" y="165.70" width="882.30" height="2.80" fill="#2a2a2a"/>
<rect x="1433.60" y="396.80" width="882.30" height="2.90" fill="#2a2a2a"/>
<rect x="1433.60" y="165.70" width="2.80" height="234.00" fill="#2a2a2a"/>
<rect x="2313.20" y="165.70" width="2.70" height="234.00" fill="#2a2a2a"/>
<path d="M1454.6 229.8H1646.8" stroke="#00A2FF" stroke-width="13.4" fill="none"/>
<path d="M1454.6 337.7H1646.8" stroke="#00FFFF" stroke-width="13.4" fill="none"/>
<text class="leg" x="1660" y="261.8">proposed control</text>
<text class="leg" x="1660" y="369.1">compared control</text>
</g>
<text class="lab" style="font-size:93px" transform="translate(1172 867.6) scale(1.170 1)" x="-2.9 27.4 59.3 125.6 169.2 199.6 242.7" y="0.0 0.0 0.0 0.0 4.7 0.0 -0.5" rotate="0 0 0 0 -13 0 -13">time(s)</text>
<text class="lab" style="font-size:93px" transform="translate(1172 1815.0) scale(1.170 1)" x="-2.9 27.4 59.3 125.6 169.2 199.6 242.7" y="0.0 0.0 0.0 0.0 4.7 0.0 -0.5" rotate="0 0 0 0 -13 0 -13">time(s)</text>
<text class="lab" style="font-size:97px;stroke-width:0.8px" transform="translate(150.1 594.1) rotate(-90) scale(1.110 1)" x="2.1 72.7 117.0 162.1 202.1 261.0 358.7" y="0.0 0.0 0.0 0.0 0.0 0.0 3.9" rotate="0 0 0 0 0 0 -13">Norm W1</text>
<text class="lab" style="font-size:97px;stroke-width:0.8px" transform="translate(118.8 1539.6) rotate(-90) scale(1.110 1)" x="2.1 72.7 117.0 162.1 202.1 261.0 357.1" y="0.0 0.0 0.0 0.0 0.0 0.0 2.4" rotate="0 0 0 0 0 0 -13">Norm W2</text>
</g>
</svg>
</body></html>
